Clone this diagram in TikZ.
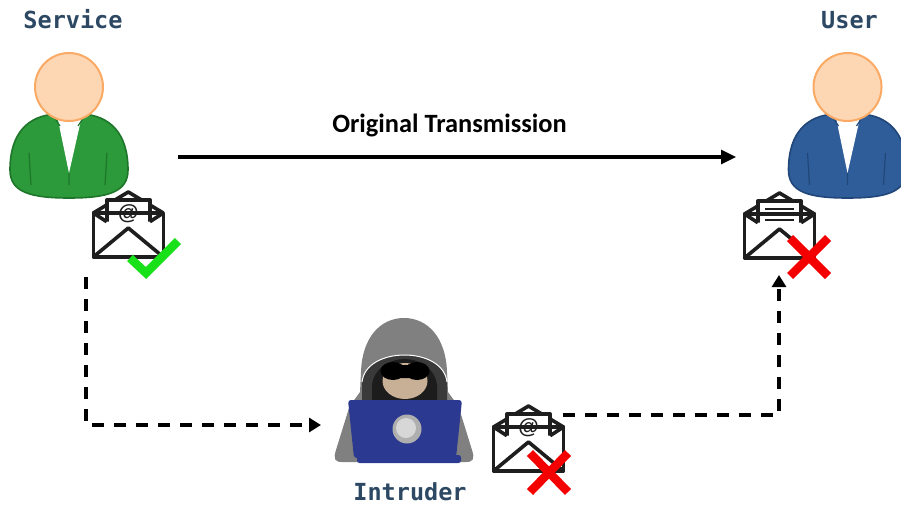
\documentclass[tikz,border=0pt]{standalone}
\usepackage{fontspec}
\newfontfamily\labelfont{DejaVu Sans Mono}
\newfontfamily\capfont{Carlito}
\newfontfamily\atfont{Liberation Sans}
\usetikzlibrary{arrows.meta}

\definecolor{labelblue}{RGB}{44,72,99}
\definecolor{headfill}{RGB}{253,214,180}
\definecolor{headline}{RGB}{250,170,100}
\definecolor{svcgreen}{RGB}{44,153,58}
\definecolor{svcgreenline}{RGB}{30,118,42}
\definecolor{usrblue}{RGB}{46,93,153}
\definecolor{usrblueline}{RGB}{33,70,122}
\definecolor{envline}{RGB}{30,30,30}
\definecolor{okgreen}{RGB}{25,225,25}
\definecolor{badred}{RGB}{245,0,0}
\definecolor{hoodgray}{RGB}{128,128,128}
\definecolor{hooddark}{RGB}{58,58,58}
\definecolor{hoodblack}{RGB}{28,28,28}
\definecolor{skin}{RGB}{200,176,150}
\definecolor{laptop}{RGB}{43,57,144}
\definecolor{logoout}{RGB}{175,175,175}
\definecolor{logoin}{RGB}{215,215,215}

\tikzset{
  lbl/.style={font=\labelfont\bfseries\fontsize{23.5}{28}\selectfont, text=labelblue, inner sep=0pt, anchor=base},
  caption/.style={font=\capfont\bfseries\fontsize{26.4}{30}\selectfont, inner sep=0pt, anchor=base},
  atsign/.style={inner sep=0pt, font=\atfont\bfseries\fontsize{21}{21}\selectfont, text=envline},
  flow/.style={line width=3.2pt, -{Triangle[length=15pt,width=14pt]}},
  leak/.style={line width=3.2pt, dash pattern=on 12pt off 10pt, -{Triangle[length=12pt,width=14pt]}},
  verdict/.style={line width=8.5pt},
  pics/person/.style n args={2}{code={
    % torso
    \path[fill=#1, draw=#2, line width=1.6pt]
      (0,111) .. controls (-39,111) and (-59,105) .. (-59,83)
      .. controls (-59,45) and (-40,29) .. (-14,27) -- (14,27)
      .. controls (40,29) and (59,45) .. (59,83)
      .. controls (59,105) and (39,111) .. (0,111) -- cycle;
    % shirt opening
    \fill[white] (-11,33) -- (12,33) -- (0,86) -- cycle;
    % collar and sleeve folds
    \draw[#2, line width=1.2pt] (-17,27) -- (-9,39) (17,27) -- (9,39)
      (0,86) -- (0,98) (-40,66) -- (-38,98) (38,66) -- (36,98);
    % head
    \draw[fill=headfill, draw=headline, line width=2pt] (0,0) circle[radius=34pt];
  }},
  pics/envelope/.style={code={
    \begin{scope}[draw=envline, line width=3.6pt, line join=round]
      % open flap
      \filldraw[fill=white] (-35,0) -- (0,-21) -- (35,0);
      % letter
      \filldraw[fill=white] (-21.6,-13) rectangle (21.6,14);
      % front pocket
      \fill[white] (-35,0) -- (-21.6,8.7) -- (21.6,8.7) -- (35,0) -- (35,44) -- (-35,44) -- cycle;
      \draw (-35,0) -- (-21.6,8.7) (35,0) -- (21.6,8.7);
      \draw (-35,44) -- (0,15) -- (35,44);
      \draw (-35,0) rectangle (35,44);
    \end{scope}
  }},
}

\begin{document}
\begin{tikzpicture}[x=1pt, y=-1pt]
\useasboundingbox (0,0) rectangle (901,506);

% ---- service and user ----
\pic (svc) at (69,87) {person={svcgreen}{svcgreenline}};
\pic (usr) at (847.5,87) {person={usrblue}{usrblueline}};

\node[lbl] (svcLabel) at (73,28) {Service};
\node[lbl] (usrLabel) at (849.5,28) {User};

% ---- envelopes ----
\pic (envS) at (128.3,213) {envelope};
\node[atsign] (atS) at (128.3,214) {@};

\pic (envU) at (779.5,214) {envelope};
\draw[envline, line width=2.6pt] (765,209) -- (794,209) (765,214.5) -- (794,214.5) (765,220) -- (794,220);

\pic (envI) at (528.5,427) {envelope};
\node[atsign] (atI) at (528.5,428) {@};

% ---- verdict marks ----
\draw[verdict, okgreen] (130,258) -- (146,273) -- (178,241);
\draw[verdict, badred] (790,238) -- (828,276) (828,238) -- (790,276);
\draw[verdict, badred] (530,453) -- (568,492) (568,453) -- (530,492);

% ---- intruder ----
\fill[hoodgray] (404,318) .. controls (380,318) and (362,338) .. (361,372)
  -- (360,392) .. controls (356,398) and (352,402) .. (349,408)
  -- (336,450) .. controls (333,459) and (335,462) .. (342,462)
  -- (466,462) .. controls (473,462) and (475,459) .. (472,450)
  -- (459,408) .. controls (456,402) and (452,398) .. (448,392)
  -- (447,372) .. controls (446,338) and (428,318) .. (404,318) -- cycle;
\fill[hooddark] (362,402) -- (362,382) .. controls (364,364) and (384,355) .. (404.5,355)
  .. controls (425,355) and (445,364) .. (447,382) -- (447,402) -- cycle;
\draw[white, line width=1pt] (362,382) .. controls (364,364) and (384,355) .. (404.5,355)
  .. controls (425,355) and (445,364) .. (447,382);
\fill[hoodblack] (372,402) -- (372,385) .. controls (374,368) and (390,359) .. (404.5,359)
  .. controls (419,359) and (435,368) .. (437,385) -- (437,402) -- cycle;
\fill[skin] (405,381) ellipse[x radius=22.5pt, y radius=18pt];
\fill[black] (393,371) ellipse[x radius=12.5pt, y radius=9pt]
  (417,371) ellipse[x radius=12.5pt, y radius=9pt]
  (395,365) rectangle (415,378);
\fill[laptop, rounded corners=3pt] (348,400) -- (462,400) -- (456,458) -- (354,458) -- cycle;
\fill[laptop, rounded corners=2.5pt] (357,455) rectangle (461,463);
\fill[logoout] (407,429) circle[radius=14.5pt];
\fill[logoin] (406,428) circle[radius=10pt];

\node[lbl] (intLabel) at (410,500) {Intruder};

% ---- transmissions ----
\node[caption] (txLabel) at (449.5,132) {Original Transmission};
\coordinate (txStart) at (178,157);
\coordinate (txEnd) at (736,157);
\draw[flow] (txStart) -- (txEnd);

\coordinate (leakStart) at (86,277);
\coordinate (leakEnd) at (321,425);
\draw[leak] (leakStart) |- (leakEnd);

\coordinate (fwdStart) at (563,415);
\coordinate (fwdEnd) at (779,275);
\draw[leak] (fwdStart) -| (fwdEnd);
\end{tikzpicture}
\end{document}
